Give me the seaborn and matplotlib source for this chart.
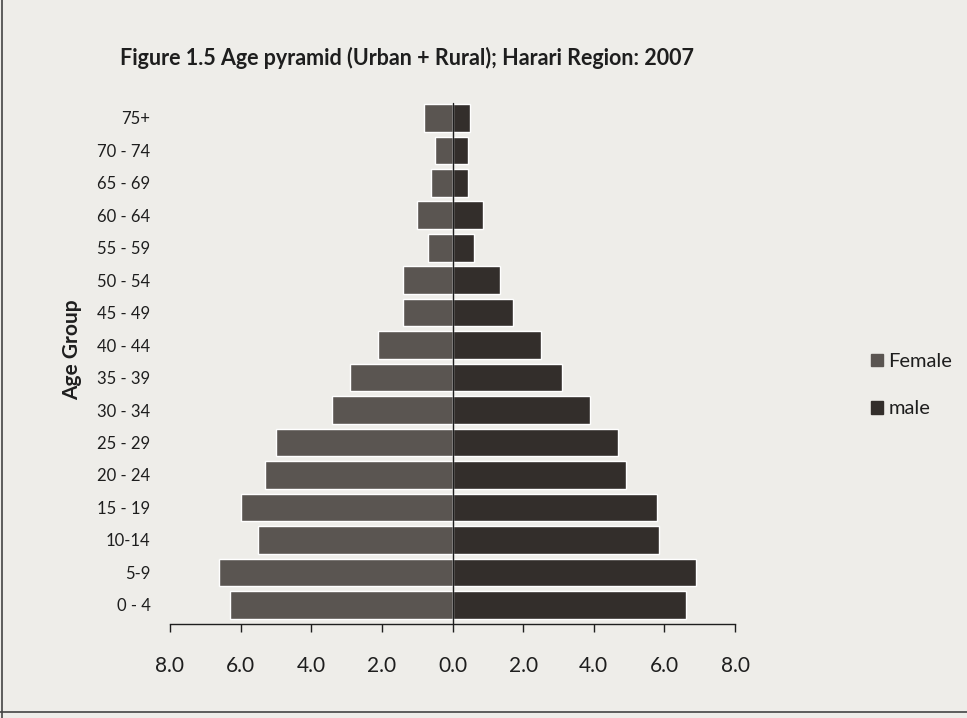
import matplotlib
matplotlib.use("Agg")
import matplotlib.pyplot as plt
import seaborn as sns
import pandas as pd
from matplotlib.patches import Patch
from matplotlib.lines import Line2D

age_groups = ["75+", "70 - 74", "65 - 69", "60 - 64", "55 - 59", "50 - 54", "45 - 49",
              "40 - 44", "35 - 39", "30 - 34", "25 - 29", "20 - 24", "15 - 19",
              "10-14", "5-9", "0 - 4"]
female = [0.8, 0.5, 0.6, 1.0, 0.7, 1.4, 1.4, 2.1, 2.9, 3.4, 5.0, 5.3, 6.0, 5.5, 6.6, 6.3]
male = [0.5, 0.45, 0.45, 0.85, 0.6, 1.35, 1.7, 2.5, 3.1, 3.9, 4.7, 4.9, 5.8, 5.85, 6.9, 6.6]
xticks = [-8, -6, -4, -2, 0, 2, 4, 6, 8]
xtick_labels = ["8.0", "6.0", "4.0", "2.0", "0.0", "2.0", "4.0", "6.0", "8.0"]

df = pd.DataFrame({"age": age_groups,
                   "Female": [-v for v in female],
                   "male": male})

sns.set_theme(style="white")
plt.rcParams["font.family"] = ["Lato", "DejaVu Sans"]

bg = "#eeede9"
fcol = "#5a5551"
mcol = "#332e2b"
ink = "#1e1e1e"

fig = plt.figure(figsize=(9.67, 7.18), dpi=100, facecolor=bg)
ax = fig.add_axes([170 / 967, 1 - 624 / 718, 565 / 967, (624 - 102) / 718])
ax.set_facecolor(bg)

sns.barplot(data=df, x="Female", y="age", order=age_groups, orient="h",
            color=fcol, width=0.85, saturation=1, ax=ax)
sns.barplot(data=df, x="male", y="age", order=age_groups, orient="h",
            color=mcol, width=0.85, saturation=1, ax=ax)

n = len(age_groups)
ylo, yhi = n - 1 + 0.59, -0.49
ax.set_xlim(-8, 8)
ax.set_ylim(ylo, yhi)
ax.axvline(0, color=ink, lw=1.0, ymin=0, ymax=(ylo + 0.45) / (ylo - yhi))

for s in ["top", "right", "left"]:
    ax.spines[s].set_visible(False)
ax.spines["bottom"].set_color(ink)
ax.spines["bottom"].set_linewidth(1.0)

ax.set_xticks(xticks)
ax.set_xticklabels(xtick_labels, fontsize=15, color=ink)
ax.tick_params(axis="x", bottom=True, direction="out", length=6, width=1, color=ink, pad=17)
ax.tick_params(axis="y", left=False, length=0, labelsize=12, labelcolor=ink, pad=14)
ax.set_xlabel("")
ax.set_ylabel("Age Group", fontsize=15, fontweight="bold", color=ink)
ax.yaxis.set_label_coords((82 - 170) / 565, (624 - 350) / 522)

fig.text(120 / 967, 1 - 58 / 718, "Figure 1.5 Age pyramid (Urban + Rural); Harari Region: 2007",
         fontsize=15.5, fontweight="bold", color=ink, va="center", ha="left")

handles = [Patch(facecolor=fcol, edgecolor=fcol), Patch(facecolor=mcol, edgecolor=mcol)]
leg = fig.legend(handles, ["Female", "male"], loc="upper left",
                 bbox_to_anchor=(853 / 967, 1 - 335 / 718), frameon=False,
                 fontsize=14.5, handlelength=0.6, handleheight=0.6,
                 handletextpad=0.25, labelspacing=1.5)
for t in leg.get_texts():
    t.set_color(ink)

# chart frame edges
fig.add_artist(Line2D([2 / 967, 2 / 967], [0, 1], transform=fig.transFigure, color="#444444", lw=1.2))
fig.add_artist(Line2D([0, 1], [1 - 712 / 718, 1 - 712 / 718], transform=fig.transFigure, color="#444444", lw=1.2))

fig.savefig("out.png", dpi=100, facecolor=bg)
